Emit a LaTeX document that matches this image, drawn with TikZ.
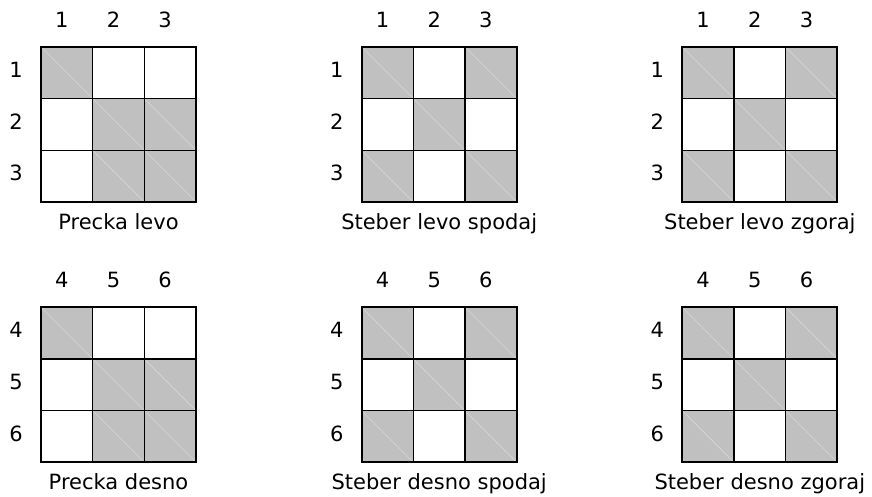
\documentclass[tikz,border=0pt]{standalone}
\usepackage{fontspec}
\setmainfont{DejaVu Sans}
\definecolor{cellgray}{HTML}{C0C0C0}
\definecolor{diagcol}{HTML}{D6D6D6}
\newcommand\cellsz{51.67}
\newcommand\mygrid[6]{%
\begin{scope}[shift={(#2,#3)}]
  \foreach \c/\r in {#5}{
    \fill[fill=cellgray] ({(\c-1)*\cellsz},{(\r-1)*\cellsz}) rectangle ++(\cellsz,\cellsz);
    \draw[diagline] ({(\c-1)*\cellsz},{(\r-1)*\cellsz}) -- ++(\cellsz,\cellsz);
  }
  \foreach \c in {1,2,3}{
    \foreach \r in {1,2,3}{
      \node[cellbox] (#1-\c-\r) at ({(\c-0.5)*\cellsz},{(\r-0.5)*\cellsz}) {};
    }
  }
  \draw[outerline] (#1-1-1.north west) rectangle (#1-3-3.south east);
  \foreach \i in {1,2,3}{
    \pgfmathtruncatemacro\lab{#4+\i-1}
    \node[lbl] (#1-col\i) at ({(\i-0.5)*\cellsz-5},-27) {\lab};
    \node[lbl] (#1-row\i) at (-25,{(\i-0.5)*\cellsz-3}) {\lab};
  }
  \node[lbl,anchor=base] (#1-cap) at ({1.5*\cellsz},{3*\cellsz+27}) {#6};
\end{scope}}
\begin{document}
\begin{tikzpicture}[x=1pt,y=-1pt,
  cellbox/.style={draw=black,line width=1.3pt,minimum size=\cellsz pt,inner sep=0pt,outer sep=0pt},
  outerline/.style={draw=black,line width=2pt},
  diagline/.style={draw=diagcol,line width=0.6pt},
  lbl/.style={font=\fontsize{21}{25}\selectfont,text=black,inner sep=0pt}]
\useasboundingbox[fill=white] (0,0) rectangle (872,497);
\mygrid{ga}{41}{47}{1}{1/1,2/2,3/2,2/3,3/3}{Precka levo}
\mygrid{gb}{361.7}{47}{1}{1/1,3/1,2/2,1/3,3/3}{Steber levo spodaj}
\mygrid{gc}{682.3}{47}{1}{1/1,3/1,2/2,1/3,3/3}{Steber levo zgoraj}
\mygrid{gd}{41}{307.3}{4}{1/1,2/2,3/2,2/3,3/3}{Precka desno}
\mygrid{ge}{361.7}{307.3}{4}{1/1,3/1,2/2,1/3,3/3}{Steber desno spodaj}
\mygrid{gf}{682.3}{307.3}{4}{1/1,3/1,2/2,1/3,3/3}{Steber desno zgoraj}
\end{tikzpicture}
\end{document}
